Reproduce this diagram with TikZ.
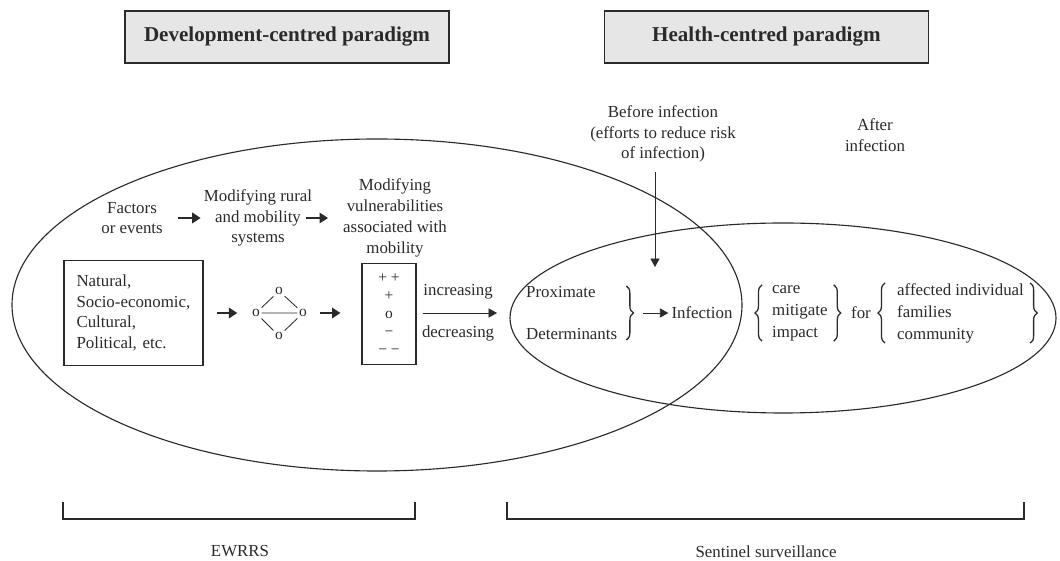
\documentclass[tikz,border=0pt]{standalone}
\usepackage{fontspec}
\setmainfont{Liberation Serif}
\definecolor{PanelGrey}{HTML}{E6E6E6}
\definecolor{Ink}{HTML}{2A2A2A}
\usetikzlibrary{arrows.meta, positioning, calc, decorations.pathreplacing}

\begin{document}
\begin{tikzpicture}[>={Triangle[length=6pt,width=6.5pt]}, color=Ink, line width=0.6pt,
  headbox/.style={draw, line width=1pt, fill=PanelGrey,
                  minimum width=8.1cm, minimum height=1.3cm,
                  font=\fontsize{15}{17}\selectfont\bfseries},
  txt/.style={align=center, inner sep=2pt, font=\fontsize{12}{14.8}\selectfont},
  group/.style={align=left, anchor=west, inner xsep=2pt, inner ysep=0pt,
                font=\fontsize{12}{15.6}\selectfont},
  frame/.style={draw, line width=0.8pt},
  vtx/.style={inner sep=1pt, font=\fontsize{11}{12}\selectfont},
  curly/.style={decorate, decoration={brace, amplitude=5pt}, line width=0.9pt},
  bigarrow/.style={->, line width=1.2pt, >={Triangle[length=6pt,width=7.5pt]}}]
  \useasboundingbox (0,0) rectangle (26.5,14);

  % paradigm headings
  \node[headbox] (dev) at (7.175,13.075) {Development-centred paradigm};
  \node[headbox] (health) at (19.16,13.075) {Health-centred paradigm};

  % the two overlapping domains
  \draw[line width=0.8pt] (9.425,6.375) ellipse [x radius=9.125cm, y radius=4.15cm];
  \draw[line width=0.8pt] (19.575,6.05) ellipse [x radius=6.825cm, y radius=2.375cm];

  % upper chain
  \node[txt] (factors) at (3.3,8.55) {Factors\\or events};
  \node[txt] (rural) at (6.45,8.55) {Modifying rural\\and mobility\\systems};
  \node[txt] (vuln) at (9.875,8.55) {Modifying\\vulnerabilities\\associated with\\mobility};
  \draw[bigarrow, shorten <=0.3cm] (factors) -- (rural);
  \draw[bigarrow] ([xshift=-0.225cm]rural.east) -- ([xshift=-0.3cm]vuln.west);

  % lower chain
  \node[frame, txt, align=left, text width=2.85cm, inner xsep=0.3125cm,
        minimum height=2.625cm] (natural) at (3.3375,6.175)
        {Natural,\\Socio-economic,\\Cultural,\\Political, etc.};
  \node[vtx] (vl) at (6.4,6.175) {o};
  \node[vtx] (vr) at (7.575,6.175) {o};
  \node[vtx] (vt) at (6.975,6.725) {o};
  \node[vtx] (vb) at (6.975,5.6) {o};
  \draw (vl) -- (vt) -- (vr) -- (vb) -- (vl) -- (vr);
  \node[frame, txt, font=\fontsize{11}{12.8}\selectfont,
        minimum width=1.35cm, minimum height=2.525cm] (signs) at (9.725,6.15)
        {+ +\\+\\o\\−\\− −};
  \draw[bigarrow, shorten <=0.325cm, shorten >=0.325cm] (natural.east) -- (vl.west);
  \draw[bigarrow, shorten <=0.275cm, shorten >=0.525cm] (vr.east) -- (signs.west |- vr.east);

  % health side
  \node[group, font=\fontsize{12}{29.8}\selectfont] (prox) at (13.075,6.175) {Proximate\\Determinants};
  \draw[curly] ([xshift=0.15cm]prox.north east) -- ([xshift=0.15cm]prox.south east);
  \draw[->, shorten <=0.15cm, shorten >=0.65cm] (signs.east |- prox.west) -- (prox.west)
        node[txt, pos=0.39, yshift=0.525cm] (inc) {increasing}
        node[txt, pos=0.39, yshift=-0.5cm] (dec) {decreasing};
  \node[txt] (infection) at (17.55,6.175) {Infection};
  \draw[->, shorten <=0.575cm] (prox) -- (infection);

  \node[group] (care) at (19.225,6.175) {care\\mitigate\\impact};
  \draw[curly] ([xshift=-0.175cm]care.south west) -- ([xshift=-0.175cm]care.north west);
  \draw[curly] ([xshift=0.075cm]care.north east) -- ([xshift=0.075cm]care.south east);
  \node[txt] (for) at (21.525,6.175) {for};
  \node[group] (affected) at (22.35,6.175) {affected individual\\families\\community};
  \draw[curly] ([xshift=-0.225cm]affected.south west) -- ([xshift=-0.225cm]affected.north west);
  \draw[curly] ([xshift=0.075cm]affected.north east) -- ([xshift=0.075cm]affected.south east);

  \node[txt] (before) at (16.575,10.65) {Before infection\\(efforts to reduce risk\\of infection)};
  \node[txt] (after) at (21.875,10.625) {After\\infection};
  \coordinate (entry) at (16.375,7.325);
  \draw[->, shorten <=0.15cm] (before.south -| entry) -- (entry);

  % surveillance brackets
  \draw[line width=0.8pt] (1.575,1.45) |- (10.375,1.025) -- (10.375,1.45);
  \draw[line width=0.8pt] (12.675,1.45) |- (25.6,1.025) -- (25.6,1.45);
  \node[txt] (ewrrs) at (6.0,0.225) {EWRRS};
  \node[txt] (sentinel) at (19.15,0.2) {Sentinel surveillance};
\end{tikzpicture}
\end{document}
